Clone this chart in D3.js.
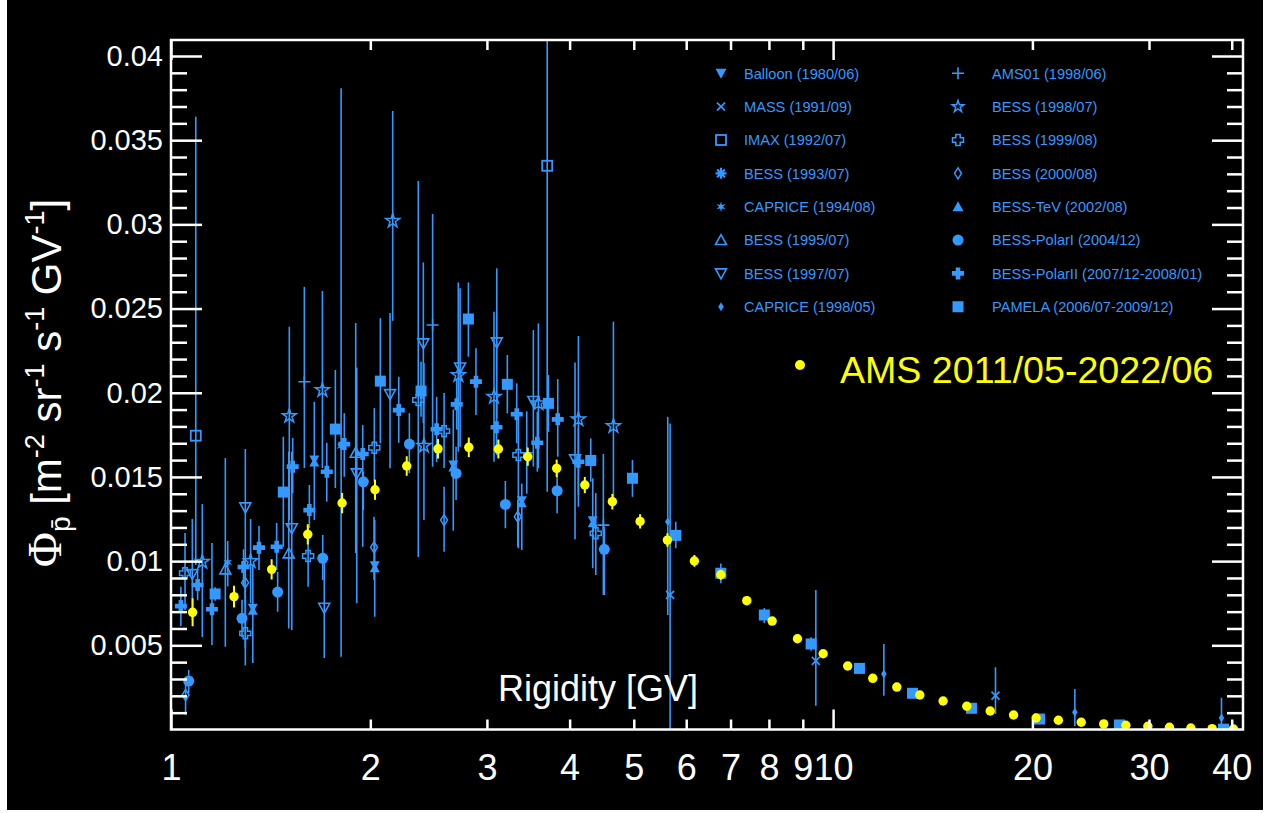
<!DOCTYPE html>
<html><head><meta charset="utf-8">
<script src="https://cdn.jsdelivr.net/npm/d3@7"></script>
<style>body{margin:0;background:#fff}text{font-family:'Liberation Sans',Arial,Helvetica,sans-serif}</style>
</head><body>
<svg id="c" width="1270" height="813"></svg>
<script>
// ---------- DATA (rigidity in GV, flux in m^-2 sr^-1 s^-1 GV^-1) ----------
const AMS_R = [1.078,1.245,1.419,1.609,1.813,2.033,2.27,2.531,2.817,3.122,3.458,3.824,4.217,4.641,5.111,5.62,6.173,6.767,7.407,8.09,8.835,9.66,10.52,11.48,12.48,13.52,14.66,15.92,17.27,18.73,20.26,21.89,23.7,25.63,27.68,29.88,32.21,34.7,37.37,40.24];
const AMS_F = [0.00696,0.00789,0.00951,0.01159,0.01345,0.01424,0.01565,0.01667,0.01676,0.01666,0.0162,0.01551,0.01452,0.01353,0.01236,0.01125,0.01001,0.00919,0.00765,0.00644,0.00539,0.0045,0.00377,0.00304,0.00252,0.00205,0.00169,0.00138,0.0011,0.00086,0.00068,0.00055,0.00043,0.00033,0.00025,0.00019,0.00013,0.00009,0.00005,0.00003];
const AMS_E = [0.00083,0.00065,0.0006,0.0006,0.0006,0.0006,0.00058,0.00058,0.00058,0.00056,0.00054,0.00052,0.00048,0.00046,0.00042,0.0004,0.00035,0.0003,0.00025,0.0002,0.00018,0.00015,0.00012,0.0001,0.00008,0.00007,0.00006,0.00005,0.00004,0.00004,0.00003,0.00003,0.00002,0.00002,0.00002,0.00001,0.00001,0.00001,0.00001,0.00001];

const PAMELA_R  = [1.166,1.478,1.771,2.071,2.386,2.813,3.221,3.716,4.305,4.977,5.786,6.767,7.873,9.264,10.96,13.18,16.18,20.5,27.07,38.87];
const PAMELA_F  = [0.00805,0.0141,0.01784,0.02069,0.0201,0.02438,0.0205,0.01937,0.01598,0.01492,0.01153,0.00928,0.0068,0.00508,0.00363,0.00215,0.00126,0.00062,0.00027,0.00002];
const PAMELA_LO = [0.00765,0.01085,0.01434,0.017,0.01857,0.02214,0.01878,0.01768,0.01471,0.01382,0.01076,0.00868,0.00632,0.00468,0.00343,0.002,0.00116,0.00054,0.00022,0];
const PAMELA_HI = [0.00845,0.01739,0.02135,0.02443,0.02184,0.02655,0.02224,0.02105,0.01729,0.016,0.01234,0.00986,0.00721,0.00548,0.00383,0.0023,0.00136,0.0007,0.00032,0.00007];

const POLAR1_R  = [1.0635,1.28,1.449,1.695,1.952,2.291,2.695,3.199,3.83,4.513];
const POLAR1_F  = [0.00288,0.0066,0.00816,0.01017,0.01471,0.01695,0.01521,0.01337,0.01418,0.0107];
const POLAR1_LO = [0.00217,0.0055,0.007,0.00888,0.01303,0.01523,0.01363,0.01195,0.01284,0.00799];
const POLAR1_HI = [0.00353,0.0077,0.00937,0.01155,0.01531,0.01879,0.01679,0.01476,0.01531,0.01204];

const POLAR2_R  = [1.035,1.097,1.153,1.287,1.358,1.444,1.527,1.618,1.719,1.827,1.948,2.208,2.519,2.701,2.888,3.102,3.328,3.575,3.838,4.124];
const POLAR2_F  = [0.00733,0.00858,0.00714,0.00965,0.0108,0.01085,0.01561,0.01303,0.01531,0.01695,0.01636,0.01897,0.01783,0.01931,0.02066,0.01795,0.01872,0.01703,0.01842,0.0159];
const POLAR2_LO = [0.00615,0.00768,0.00502,0.0085,0.00947,0.00947,0.01404,0.01196,0.01353,0.01501,0.01085,0.01703,0.01588,0.01781,0.01868,0.0163,0.017,0.01531,0.0162,0.0139];
const POLAR2_HI = [0.00848,0.00948,0.01107,0.0107,0.01208,0.01226,0.01731,0.01452,0.01703,0.01879,0.01808,0.02095,0.01976,0.02081,0.02264,0.01957,0.02056,0.01887,0.02081,0.0179];

const B97_R  = [1.077,1.295,1.522,1.704,1.908,2.142,2.405,2.733,3.105,3.526,4.076];
const B97_F  = [0.00923,0.01319,0.01195,0.00723,0.01521,0.01992,0.02293,0.0215,0.02299,0.01951,0.01604];
const B97_LO = [0.0065,0.00484,0.00591,0.00425,0.0075,0.01551,0.0182,0.01679,0.0185,0.01561,0.0113];
const B97_HI = [0.0125,0.01666,0.0165,0.01048,0.0215,0.02473,0.02774,0.0262,0.02739,0.02372,0.0218];

const B95_R  = [1.208,1.506,1.901];
const B95_F  = [0.00951,0.01046,0.01644];
const B95_LO = [0.00492,0.006,0.01048];
const B95_HI = [0.01612,0.0165,0.02414];

const B98_R  = [1.115,1.319,1.509,1.693,2.162,2.41,2.716,3.075,3.588,4.124,4.658];
const B98_F  = [0.00996,0.01,0.01862,0.02016,0.03021,0.01685,0.02105,0.01976,0.01937,0.01842,0.01802];
const B98_LO = [0.0055,0.0075,0.01244,0.01553,0.02427,0.01244,0.0165,0.0159,0.01551,0.01323,0.01363];
const B98_HI = [0.01339,0.0125,0.02392,0.02604,0.03673,0.02176,0.02655,0.02481,0.02412,0.02337,0.02422];

const B99_R  = [1.05,1.295,1.611,2.028,2.363,2.585,3.347,4.381];
const B99_F  = [0.00928,0.00571,0.0103,0.01673,0.01957,0.01772,0.0163,0.01165];
const B99_LO = [0.0071,0.0038,0.00848,0.01471,0.01024,0.01553,0.01076,0.00917];
const B99_HI = [0.01167,0.0077,0.01204,0.01909,0.03257,0.01998,0.01879,0.01404];

const B00_R  = [1.052,1.294,2.026,2.585,3.34];
const B00_F  = [0.00205,0.00872,0.01082,0.01244,0.01264];
const B00_LO = [0.00086,0.0075,0.00888,0.01056,0.01085];
const B00_HI = [0.0028,0.01,0.01264,0.01442,0.01363];

const B93_R  = [1.329,1.646,2.031,2.669,3.387,4.335];
const B93_F  = [0.00714,0.01594,0.00967,0.01565,0.01353,0.01234];
const B93_LO = [0.00395,0.01244,0.0067,0.0118,0.01066,0.00957];
const B93_HI = [0.0098,0.01946,0.01244,0.019,0.0146,0.01492];

const CAP94_R  = [1.218,1.807];
const CAP94_F  = [0.00993,0.01683];
const CAP94_LO = [0.0085,0.00432];
const CAP94_HI = [0.0112,0.03808];

const AMS01_R  = [1.59,2.484,3.446,4.498];
const AMS01_F  = [0.02065,0.02402,0.01644,0.01214];
const AMS01_LO = [0.01553,0.01561,0.014,0.00799];
const AMS01_HI = [0.02629,0.03061,0.0189,0.01636];

const MASS_R  = [5.673,9.417,17.59];
const MASS_F  = [0.00799,0.00407,0.00201];
const MASS_LO = [0,0.00141,0.00092];
const MASS_HI = [0.01818,0.00828,0.00369];

const CAP98_R  = [5.627,11.93,23.18,38.6];
const CAP98_F  = [0.01234,0.0033,0.00102,0.00068];
const CAP98_LO = [0.0068,0.00201,0.00021,0.00007];
const CAP98_HI = [0.01857,0.00508,0.0024,0.00189];

const IMAX_R  = [1.09,3.7];
const IMAX_F  = [0.01745,0.03348];
const IMAX_LO = [0.00977,0.01412];
const IMAX_HI = [0.03639,0.045];

const BALLOON_R = [], BALLOON_F = [], BALLOON_LO = [], BALLOON_HI = [];
const BTEV_R = [], BTEV_F = [], BTEV_LO = [], BTEV_HI = [];

const X_TICKS_MAJOR = [1, 10];
const X_TICKS_MINOR = [2,3,4,5,6,7,8,9,20,30,40];
const Y_TICKS_MAJOR = [0.005,0.01,0.015,0.02,0.025,0.03,0.035,0.04];

const LEGEND_LEFT  = ['Balloon (1980/06)','MASS (1991/09)','IMAX (1992/07)','BESS (1993/07)','CAPRICE (1994/08)','BESS (1995/07)','BESS (1997/07)','CAPRICE (1998/05)'];
const LEGEND_RIGHT = ['AMS01 (1998/06)','BESS (1998/07)','BESS (1999/08)','BESS (2000/08)','BESS-TeV (2002/08)','BESS-PolarI (2004/12)','BESS-PolarII (2007/12-2008/01)','PAMELA (2006/07-2009/12)'];
const AMS_LABEL = 'AMS 2011/05-2022/06';

// ---------- SETUP ----------
const BLUE = '#3399ff', YEL = '#ffff00';
const svg = d3.select('#c');
svg.append('rect').attr('x',7).attr('y',0).attr('width',1256).attr('height',810).attr('fill','#000');

const M = {l:171, r:1243, t:40, b:729.5};
const x = d3.scaleLog().domain([1, 41.6]).range([M.l, M.r]);
const y = d3.scaleLinear().domain([0, 0.04095]).range([M.b, M.t]);

svg.append('clipPath').attr('id','clip').append('rect')
  .attr('x',M.l).attr('y',M.t).attr('width',M.r-M.l).attr('height',M.b-M.t);

// ---------- symbols ----------
function mark(g, type, cx, cy, c, legend){
  const P = s => g.append('path').attr('d', s);
  switch(type){
    case 'sqFill': g.append('rect').attr('x',cx-5.5).attr('y',cy-5.5).attr('width',11).attr('height',11).attr('fill',c); break;
    case 'sqOpen': g.append('rect').attr('x',cx-5).attr('y',cy-5).attr('width',10).attr('height',10).attr('fill','none').attr('stroke',c).attr('stroke-width',1.8); break;
    case 'circFill': g.append('circle').attr('cx',cx).attr('cy',cy).attr('r',5.5).attr('fill',c); break;
    case 'triUpOpen': P(`M${cx},${cy-5.5}L${cx+5.5},${cy+4.5}L${cx-5.5},${cy+4.5}Z`).attr('fill','none').attr('stroke',c).attr('stroke-width',1.6); break;
    case 'triDownOpen': P(`M${cx-5.5},${cy-4.5}L${cx+5.5},${cy-4.5}L${cx},${cy+5.5}Z`).attr('fill','none').attr('stroke',c).attr('stroke-width',1.6); break;
    case 'triUpFill': P(`M${cx},${cy-5.5}L${cx+5.5},${cy+4.5}L${cx-5.5},${cy+4.5}Z`).attr('fill',c); break;
    case 'triDownFill': P(`M${cx-5.5},${cy-4.5}L${cx+5.5},${cy-4.5}L${cx},${cy+5.5}Z`).attr('fill',c); break;
    case 'crossFill': { const a=6, w=2.3;
      P(`M${cx-w},${cy-a}H${cx+w}V${cy-w}H${cx+a}V${cy+w}H${cx+w}V${cy+a}H${cx-w}V${cy+w}H${cx-a}V${cy-w}H${cx-w}Z`).attr('fill',c); break; }
    case 'crossOpen': { const a=5.5, w=2.2;
      P(`M${cx-w},${cy-a}H${cx+w}V${cy-w}H${cx+a}V${cy+w}H${cx+w}V${cy+a}H${cx-w}V${cy+w}H${cx-a}V${cy-w}H${cx-w}Z`).attr('fill','none').attr('stroke',c).attr('stroke-width',1.5); break; }
    case 'plusThin': P(`M${cx-6},${cy}H${cx+6}M${cx},${cy-6}V${cy+6}`).attr('stroke',c).attr('stroke-width',1.6); break;
    case 'times': P(`M${cx-4},${cy-4}L${cx+4},${cy+4}M${cx-4},${cy+4}L${cx+4},${cy-4}`).attr('stroke',c).attr('stroke-width',1.7); break;
    case 'diamondOpen': P(`M${cx},${cy-5.5}L${cx+3.5},${cy}L${cx},${cy+5.5}L${cx-3.5},${cy}Z`).attr('fill','none').attr('stroke',c).attr('stroke-width',1.5); break;
    case 'diamondSmall': P(`M${cx},${cy-4.5}L${cx+2.8},${cy}L${cx},${cy+4.5}L${cx-2.8},${cy}Z`).attr('fill',c); break;
    case 'starOpen': P(d3.symbol(d3.symbolStar, legend ? 42 : 60)()).attr('transform',`translate(${cx},${cy})`).attr('fill','none').attr('stroke',c).attr('stroke-width',1.5); break;
    case 'star6': { let s=''; for(let i=0;i<12;i++){const r=i%2?2:5.2, a=Math.PI/6*i-Math.PI/2; s+=(i?'L':'M')+(cx+r*Math.cos(a))+','+(cy+r*Math.sin(a));} P(s+'Z').attr('fill',c); break; }
    case 'hourglass': P(`M${cx-5},${cy-5.5}H${cx+5}L${cx+2},${cy}L${cx+5},${cy+5.5}H${cx-5}L${cx-2},${cy}Z`).attr('fill',c); break;
    case 'asterisk': { let s=''; for(let i=0;i<4;i++){const a=Math.PI/4*i; s+=`M${cx-5.5*Math.cos(a)},${cy-5.5*Math.sin(a)}L${cx+5.5*Math.cos(a)},${cy+5.5*Math.sin(a)}`;}
      P(s).attr('stroke',c).attr('stroke-width',2.2); g.append('circle').attr('cx',cx).attr('cy',cy).attr('r',2.6).attr('fill',c); break; }
  }
}

const DATASETS = [
  {name:LEGEND_LEFT[0], sym:'triDownFill', R:BALLOON_R, F:BALLOON_F, LO:BALLOON_LO, HI:BALLOON_HI, col:0,row:0},
  {name:LEGEND_LEFT[1], sym:'times', R:MASS_R, F:MASS_F, LO:MASS_LO, HI:MASS_HI, col:0,row:1},
  {name:LEGEND_LEFT[2], sym:'sqOpen', R:IMAX_R, F:IMAX_F, LO:IMAX_LO, HI:IMAX_HI, col:0,row:2},
  {name:LEGEND_LEFT[3], sym:'hourglass', lsym:'asterisk', R:B93_R, F:B93_F, LO:B93_LO, HI:B93_HI, col:0,row:3},
  {name:LEGEND_LEFT[4], sym:'star6', R:CAP94_R, F:CAP94_F, LO:CAP94_LO, HI:CAP94_HI, col:0,row:4},
  {name:LEGEND_LEFT[5], sym:'triUpOpen', R:B95_R, F:B95_F, LO:B95_LO, HI:B95_HI, col:0,row:5},
  {name:LEGEND_LEFT[6], sym:'triDownOpen', R:B97_R, F:B97_F, LO:B97_LO, HI:B97_HI, col:0,row:6},
  {name:LEGEND_LEFT[7], sym:'diamondSmall', R:CAP98_R, F:CAP98_F, LO:CAP98_LO, HI:CAP98_HI, col:0,row:7},
  {name:LEGEND_RIGHT[0], sym:'plusThin', R:AMS01_R, F:AMS01_F, LO:AMS01_LO, HI:AMS01_HI, col:1,row:0},
  {name:LEGEND_RIGHT[1], sym:'starOpen', R:B98_R, F:B98_F, LO:B98_LO, HI:B98_HI, col:1,row:1},
  {name:LEGEND_RIGHT[2], sym:'crossOpen', R:B99_R, F:B99_F, LO:B99_LO, HI:B99_HI, col:1,row:2},
  {name:LEGEND_RIGHT[3], sym:'diamondOpen', R:B00_R, F:B00_F, LO:B00_LO, HI:B00_HI, col:1,row:3},
  {name:LEGEND_RIGHT[4], sym:'triUpFill', R:BTEV_R, F:BTEV_F, LO:BTEV_LO, HI:BTEV_HI, col:1,row:4},
  {name:LEGEND_RIGHT[5], sym:'circFill', R:POLAR1_R, F:POLAR1_F, LO:POLAR1_LO, HI:POLAR1_HI, col:1,row:5},
  {name:LEGEND_RIGHT[6], sym:'crossFill', R:POLAR2_R, F:POLAR2_F, LO:POLAR2_LO, HI:POLAR2_HI, col:1,row:6},
  {name:LEGEND_RIGHT[7], sym:'sqFill', R:PAMELA_R, F:PAMELA_F, LO:PAMELA_LO, HI:PAMELA_HI, col:1,row:7},
];

// ---------- data layer ----------
const plot = svg.append('g').attr('clip-path','url(#clip)');
const errG = plot.append('g');
DATASETS.forEach(ds => ds.R.forEach((r,i) => {
  errG.append('line').attr('x1',x(r)).attr('x2',x(r)).attr('y1',y(ds.LO[i])).attr('y2',y(ds.HI[i]))
    .attr('stroke',BLUE).attr('stroke-width',1.6);
}));
const mkG = plot.append('g');
DATASETS.forEach(ds => ds.R.forEach((r,i) => mark(mkG, ds.sym, x(r), y(ds.F[i]), BLUE, false)));

const amsG = plot.append('g');
AMS_R.forEach((r,i) => {
  amsG.append('line').attr('x1',x(r)).attr('x2',x(r)).attr('y1',y(AMS_F[i]-AMS_E[i])).attr('y2',y(AMS_F[i]+AMS_E[i]))
    .attr('stroke',YEL).attr('stroke-width',2);
  amsG.append('circle').attr('cx',x(r)).attr('cy',y(AMS_F[i])).attr('r',4.7).attr('fill',YEL);
});

// ---------- axes ----------
function styleAxis(g, fs){
  g.select('.domain').remove();
  g.selectAll('.tick line').attr('stroke','#fff').attr('stroke-width',2.5);
  g.selectAll('.tick text').attr('fill','#fff').attr('font-size',fs).attr('font-family',"'Liberation Sans',Arial,sans-serif");
}
const yMinor = d3.range(1,41).map(i=>i*0.001).filter(v=>Math.round(v*1000)%5!==0);
const fmtY = d => String(+d.toFixed(3));
svg.append('g').attr('transform',`translate(${M.l},0)`)
  .call(d3.axisLeft(y).tickValues(Y_TICKS_MAJOR).tickSize(-31).tickPadding(8).tickFormat(fmtY)).call(g=>styleAxis(g,29));
svg.append('g').attr('transform',`translate(${M.l},0)`)
  .call(d3.axisLeft(y).tickValues(yMinor).tickSize(-16).tickFormat('')).call(g=>styleAxis(g,29));
svg.append('g').attr('transform',`translate(${M.r},0)`)
  .call(d3.axisRight(y).tickValues(Y_TICKS_MAJOR).tickSize(-31).tickFormat('')).call(g=>styleAxis(g,29));
svg.append('g').attr('transform',`translate(${M.r},0)`)
  .call(d3.axisRight(y).tickValues(yMinor).tickSize(-16).tickFormat('')).call(g=>styleAxis(g,29));

const fmtX = d => String(d);
svg.append('g').attr('transform',`translate(0,${M.b})`)
  .call(d3.axisBottom(x).tickValues(X_TICKS_MAJOR).tickSize(-20).tickPadding(25).tickFormat(fmtX)).call(g=>styleAxis(g,36));
svg.append('g').attr('transform',`translate(0,${M.b})`)
  .call(d3.axisBottom(x).tickValues(X_TICKS_MINOR).tickSize(-10).tickPadding(25).tickFormat(fmtX)).call(g=>styleAxis(g,36));
svg.append('g').attr('transform',`translate(0,${M.t})`)
  .call(d3.axisTop(x).tickValues(X_TICKS_MAJOR).tickSize(-20).tickFormat('')).call(g=>styleAxis(g,36));
svg.append('g').attr('transform',`translate(0,${M.t})`)
  .call(d3.axisTop(x).tickValues(X_TICKS_MINOR).tickSize(-10).tickFormat('')).call(g=>styleAxis(g,36));

svg.append('rect').attr('x',M.l).attr('y',M.t).attr('width',M.r-M.l).attr('height',M.b-M.t)
  .attr('fill','none').attr('stroke','#fff').attr('stroke-width',2.5);

// ---------- titles ----------
svg.append('text').attr('x',498).attr('y',701).attr('fill','#fff').attr('font-size',36).text('Rigidity [GV]');

const yl = svg.append('text').attr('transform','translate(61,383) rotate(-90)')
  .attr('text-anchor','middle').attr('fill','#fff').attr('font-size',42);
[
  {t:'Φ',fs:48,dy:0,ff:"'Liberation Serif','DejaVu Serif',serif"},
  {t:'p\u0304',fs:28,dy:9},
  {t:' [m',fs:42,dy:-9},
  {t:'-2',fs:27,dy:-17},
  {t:' sr',fs:42,dy:17},
  {t:'-1',fs:27,dy:-17},
  {t:' s',fs:42,dy:17},
  {t:'-1',fs:27,dy:-17},
  {t:' GV',fs:42,dy:17},
  {t:'-1',fs:27,dy:-17},
  {t:']',fs:42,dy:17}
].forEach(p => {
  const ts = yl.append('tspan').attr('font-size',p.fs).attr('dy',p.dy).text(p.t);
  if(p.ff) ts.style('font-family',p.ff);
});

// ---------- legend ----------
const lg = svg.append('g');
const colMark = [721, 958], colText = [744, 992];
DATASETS.forEach(ds => {
  const cy = 73.3 + ds.row*33.35;
  mark(lg, ds.lsym || ds.sym, colMark[ds.col], cy, BLUE, true);
  lg.append('text').attr('x',colText[ds.col]).attr('y',cy+5.2).attr('fill',BLUE).attr('font-size',14.6).text(ds.name);
});
lg.append('circle').attr('cx',800).attr('cy',365).attr('r',5).attr('fill',YEL);
lg.append('text').attr('x',840).attr('y',383).attr('fill',YEL).attr('font-size',37.6).text(AMS_LABEL);
</script>
</body></html>
